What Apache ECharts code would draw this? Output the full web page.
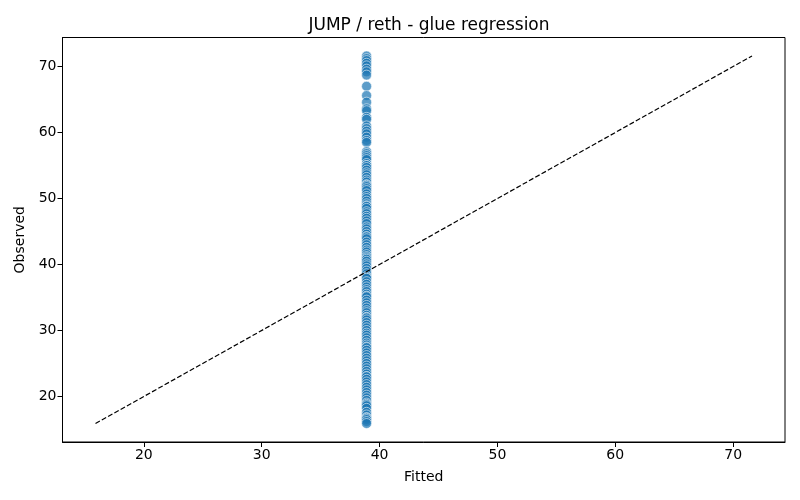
<!DOCTYPE html>
<html>
<head>
<meta charset="utf-8">
<script src="https://cdn.jsdelivr.net/npm/echarts@6/dist/echarts.min.js"></script>
<style>
  html, body { margin: 0; padding: 0; background: #fff; }
  #chart { width: 800px; height: 500px; }
</style>
</head>
<body>
<div id="chart"></div>
<script>
const observed = [
  71.6, 71.2, 70.9, 70.5, 70.1, 69.6, 69.2, 68.7, 67.0, 65.6, 64.6, 63.6, 63.3,
  62.3, 62.0, 61.0, 60.6, 60.2, 59.8, 59.3, 58.8, 58.5,
  57.1, 56.8, 56.5, 56.2, 55.9, 55.3, 55.0, 55.0, 54.7, 54.3, 53.9, 53.6, 53.2,
  52.8, 52.5, 52.1, 52.0, 51.8, 51.5, 51.2, 50.7, 50.3, 50.0, 49.6, 49.2, 48.9,
  48.8, 48.5, 48.0, 47.7, 47.3, 47.0, 46.6, 46.2, 45.7, 45.4, 45.0, 44.6, 44.2,
  44.2, 43.9, 43.4, 43.0, 42.6, 42.2, 41.9, 41.5, 41.2, 41.0, 40.8, 40.5, 40.1,
  39.8, 39.4, 39.0, 38.6, 38.2, 38.0, 37.9, 37.4, 37.0, 36.6, 36.2, 35.9, 35.5,
  35.2, 35.1, 34.6, 34.2, 33.8, 33.4, 33.0, 32.7, 32.3, 32.0, 31.9, 31.6, 31.2,
  30.8, 30.4, 30.0, 29.6, 29.3, 28.9, 28.5, 28.1, 27.8, 27.5, 27.4, 27.0, 26.6,
  26.2, 25.8, 25.4, 25.0, 24.6, 24.2, 23.8, 23.4, 23.0, 23.0, 22.6, 22.2, 21.8,
  21.4, 21.0, 20.6, 20.2, 19.8, 19.4, 19.0, 18.8, 18.6, 18.2, 17.6, 17.2, 16.8,
  16.7, 16.5, 16.2, 15.9
];
const fittedValue = 38.9;
const refLine = [15.9, 71.6];
const xTicks = [20, 30, 40, 50, 60, 70];
const yTicks = [20, 30, 40, 50, 60, 70];

const chart = echarts.init(document.getElementById('chart'));
const font = 'DejaVu Sans';

const axisCommon = {
  type: 'value',
  min: 13.1,
  max: 74.4,
  splitLine: { show: false },
  axisLine: { show: true, onZero: false, lineStyle: { color: '#000', width: 1 } },
  axisTick: { show: true, length: 5, lineStyle: { color: '#000', width: 1 } },
  axisLabel: { color: '#000', fontSize: 14, fontFamily: font, margin: 6 },
  nameLocation: 'middle',
  nameTextStyle: { color: '#000', fontSize: 14, fontFamily: font }
};

chart.setOption({
  animation: false,
  backgroundColor: '#fff',
  title: {
    text: 'JUMP / reth - glue regression',
    left: 424,
    top: 12,
    textAlign: 'center',
    textStyle: { color: '#000', fontSize: 17, fontWeight: 'normal', fontFamily: font }
  },
  grid: {
    left: 62.5, right: 15, top: 37.5, bottom: 58,
    show: true, borderColor: '#000', borderWidth: 1
  },
  xAxis: Object.assign({}, axisCommon, {
    name: 'Fitted',
    nameGap: 28,
    axisTick: Object.assign({}, axisCommon.axisTick, { customValues: xTicks }),
    axisLabel: Object.assign({}, axisCommon.axisLabel, { customValues: xTicks })
  }),
  yAxis: Object.assign({}, axisCommon, {
    name: 'Observed',
    nameGap: 31,
    axisTick: Object.assign({}, axisCommon.axisTick, { customValues: yTicks }),
    axisLabel: Object.assign({}, axisCommon.axisLabel, { customValues: yTicks })
  }),
  series: [
    {
      type: 'scatter',
      symbolSize: 10,
      data: observed.map(v => [fittedValue, v]),
      itemStyle: {
        color: '#1f77b4',
        opacity: 0.72,
        borderColor: '#fff',
        borderWidth: 0.8
      },
      z: 2
    },
    {
      type: 'line',
      data: [[refLine[0], refLine[0]], [refLine[1], refLine[1]]],
      symbol: 'none',
      lineStyle: { color: '#000', width: 1.2, type: [5, 2.2] },
      z: 3
    }
  ]
});
</script>
</body>
</html>
